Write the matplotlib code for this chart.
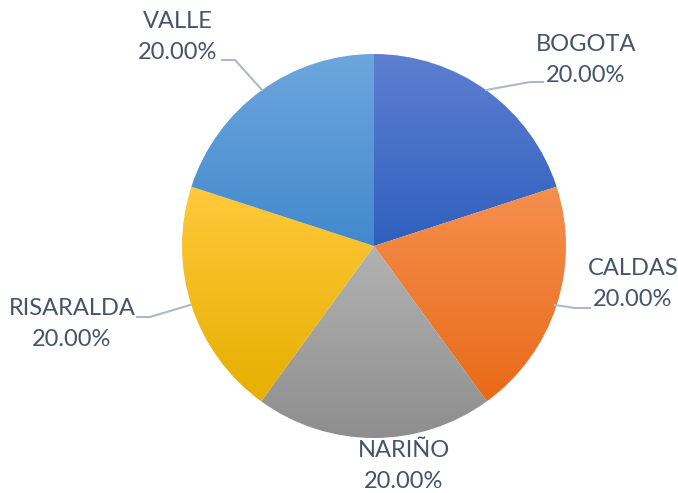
import numpy as np
import matplotlib
matplotlib.use("Agg")
import matplotlib.pyplot as plt
from matplotlib.colors import LinearSegmentedColormap

# data
labels = ["BOGOTA", "CALDAS", "NARIÑO", "RISARALDA", "VALLE"]
values = [20.0, 20.0, 20.0, 20.0, 20.0]
# (top colour, bottom colour) of each slice's gradient
grad_top = ["#5E7FD0", "#F5904F", "#B2B2B2", "#FFC93C", "#6EA6DE"]
grad_bot = ["#2F60BF", "#E96A18", "#8E8E8E", "#E6AF00", "#4289CC"]

W, H = 678, 493
fig = plt.figure(figsize=(W / 100, H / 100), dpi=100)
ax = fig.add_axes([0, 0, 1, 1])

cx, cy, r = 374, H - 246, 192
wedges, _ = ax.pie(values, startangle=90, counterclock=False,
                   center=(cx, cy), radius=r, frame=True,
                   wedgeprops=dict(linewidth=0, edgecolor="none"))
ax.set_aspect("equal")
ax.axis("off")

# gradient fill inside each wedge
for w, c1, c2 in zip(wedges, grad_top, grad_bot):
    w.set_facecolor("none")
    bb = w.get_path().get_extents(w.get_patch_transform())
    cmap = LinearSegmentedColormap.from_list("g", [c1, c2])
    grad = np.linspace(0, 1, 256).reshape(-1, 1)
    im = ax.imshow(grad, cmap=cmap, aspect="auto", origin="upper",
                   extent=[bb.x0, bb.x1, bb.y0, bb.y1], zorder=1)
    im.set_clip_path(w)

ax.set_xlim(0, W)
ax.set_ylim(0, H)

txt_color = "#44546A"
line_color = "#ADB9CA"
label_pos = [(586, 60), (633, 284), (404, 466), (72, 324), (178, 37)]
for lab, v, (x, y) in zip(labels, values, label_pos):
    ax.text(x, H - y, f"{lab}\n{v:.2f}%", ha="center", va="center",
            fontsize=17, color=txt_color, family="Lato", linespacing=1.6,
            zorder=3)

# leader lines (label anchor -> slice edge)
leaders = [
    [(543, 82), (530, 82), (486, 90)],
    [(590, 308), (575, 308), (555, 305)],
    [(137, 317), (150, 317), (190, 305)],
    [(222, 60), (235, 60), (262, 90)],
]
for pts in leaders:
    xs = [p[0] for p in pts]
    ys = [H - p[1] for p in pts]
    ax.plot(xs, ys, color=line_color, lw=1.5, zorder=2)

fig.savefig("out.png", dpi=100)
